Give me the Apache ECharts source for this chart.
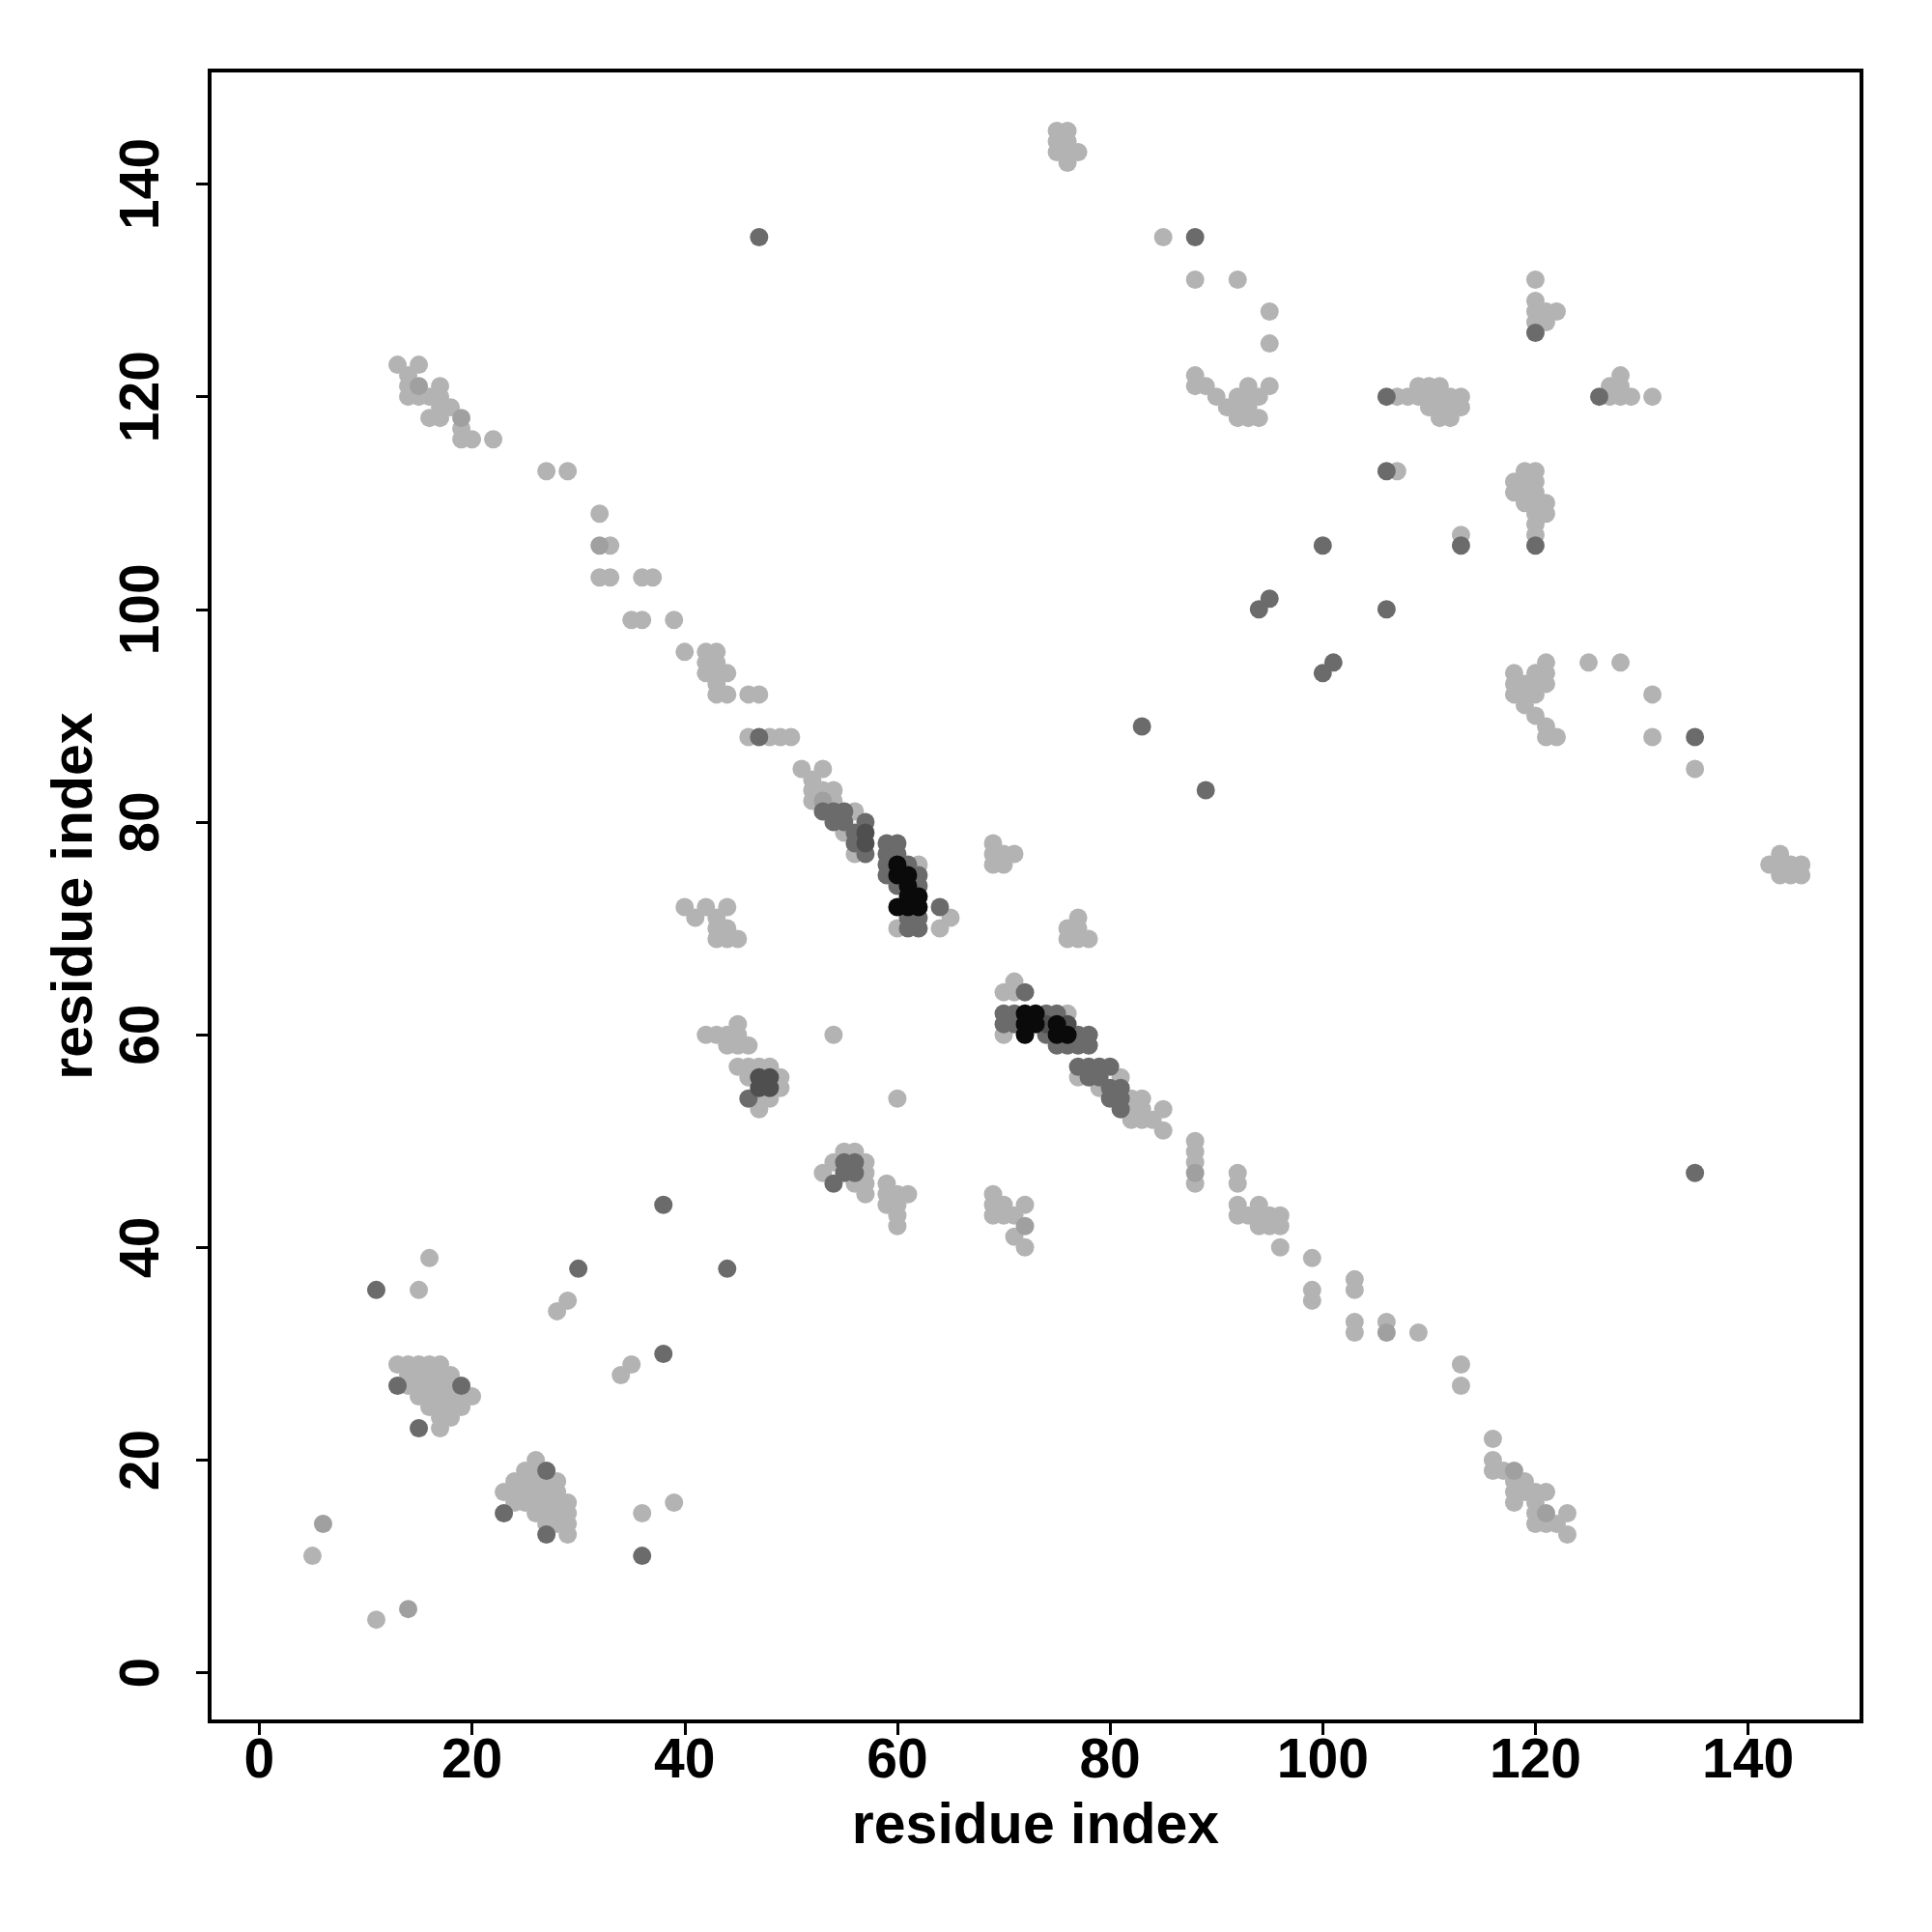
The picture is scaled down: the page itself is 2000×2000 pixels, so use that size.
<!DOCTYPE html>
<html>
<head>
<meta charset="utf-8">
<script src="https://cdn.jsdelivr.net/npm/echarts@6/dist/echarts.min.js"></script>
<style>
html,body{margin:0;padding:0;background:#fff;}
#chart{width:2000px;height:2000px;}
</style>
</head>
<body>
<div id="chart"></div>
<script>
// ---- data (residue index pairs), grouped by grey level ----
const xTicks = [0, 20, 40, 60, 80, 100, 120, 140];
const yTicks = [0, 20, 40, 60, 80, 100, 120, 140];
const axisTitle = 'residue index';

const lightPts = [
[13,123],[15,123],[14,122],[14,121],[17,121],[14,120],[15,120],[16,120],[17,120],[17,119],[18,119],[16,118],[17,118],[19,117],[19,116],[20,116],[22,116],
[27,113],[29,113],[32,109],[33,106],[32,103],[33,103],[36,103],[37,103],[35,99],[36,99],[39,99],
[40,96],[42,96],[43,96],[42,95],[43,95],[42,94],[43,94],[44,94],[43,93],[43,92],[44,92],[46,92],[47,92],
[46,88],[48,88],[49,88],[50,88],
[51,85],[53,85],[52,84],[52,83],[53,83],[54,83],[52,82],[54,82],[56,81],[55,79],[56,77],[62,76],[60,70],[64,70],[65,71],
[69,78],[69,77],[70,77],[71,77],[69,76],[70,76],
[77,71],[76,70],[77,70],[76,69],[77,69],[78,69],
[40,72],[42,72],[44,72],[41,71],[43,71],[43,70],[44,70],[43,69],[44,69],[45,69],
[45,61],[42,60],[43,60],[44,60],[45,60],[44,59],[45,59],[46,59],[45,57],[46,57],[47,57],[48,57],[46,56],[49,56],[49,55],[47,54],[48,54],[47,53],
[54,60],[60,54],
[71,65],[70,64],[71,64],[76,62],[70,60],[77,56],[79,55],[81,56],[82,54],[83,54],[82,53],[83,53],[85,53],[82,52],[83,52],[84,52],[85,51],
[88,50],[88,49],[88,48],[88,46],
[55,49],[56,49],[54,48],[57,48],[53,47],[57,47],[56,46],[57,46],[57,45],
[59,46],[59,45],[60,45],[61,45],[59,44],[60,44],[60,43],[60,42],
[69,45],[69,44],[70,44],[72,44],[69,43],[70,43],[71,43],[71,41],[72,40],
[92,47],[92,46],[92,44],[92,43],[93,43],[94,44],[94,43],[94,42],[95,43],[95,42],[96,43],[96,42],[96,40],
[99,39],[99,36],[99,35],[103,37],[103,36],[103,33],[103,32],[106,33],[109,32],
[113,29],[113,27],[116,22],[116,20],[116,19],[117,19],[118,18],[119,18],[118,17],[119,17],[120,17],[121,17],[118,16],[120,16],[120,15],[123,15],[120,14],[121,14],[122,14],[123,13],
[16,39],[15,36],[29,35],[28,34],[35,29],[34,28],[36,15],[39,16],[5,11],[11,5],
[13,29],[14,29],[15,29],[16,29],[17,29],[14,28],[15,28],[16,28],[17,28],[18,28],[14,27],[15,27],[16,27],[17,27],[18,27],[15,26],[16,26],[17,26],[18,26],[19,26],[20,26],[16,25],[17,25],[18,25],[19,25],[17,24],[18,24],[17,23],
[26,20],[25,19],[26,19],[24,18],[25,18],[26,18],[27,18],[28,18],[23,17],[24,17],[25,17],[26,17],[27,17],[28,17],[24,16],[25,16],[26,16],[27,16],[28,16],[29,16],[26,15],[27,15],[28,15],[29,15],[27,14],[28,14],[29,14],[29,13],
[75,145],[76,145],[75,144],[76,144],[75,143],[76,143],[77,143],[76,142],[85,135],[88,131],[92,131],[95,128],[95,125],
[88,122],[88,121],[89,121],[90,120],[91,119],[92,120],[92,119],[93,121],[93,120],[94,120],[95,121],[92,118],[93,118],[94,118],[93,119],
[120,131],[120,129],[120,128],[121,128],[122,128],[120,127],[121,127],
[107,120],[108,120],[109,120],[110,120],[111,120],[112,120],[113,120],[109,121],[110,121],[111,121],[110,119],[111,119],[112,119],[113,119],[111,118],[112,118],
[127,121],[128,122],[128,121],[127,120],[128,120],[129,120],[131,120],
[107,113],[113,107],
[119,113],[120,113],[118,112],[119,112],[120,112],[118,111],[119,111],[120,111],[119,110],[120,110],[121,110],[120,109],[121,109],[120,108],[120,107],
[121,95],[118,94],[120,94],[121,94],[118,93],[119,93],[120,93],[121,93],[118,92],[119,92],[120,92],[119,91],[120,90],[121,89],[121,88],[122,88],[125,95],[128,95],[131,92],[131,88],[135,85],
[142,76],[143,77],[143,76],[144,76],[145,76],[143,75],[144,75],[145,75]
];

const midPts = [
[19,118],[15,121],[32,106],[53,82],[88,47],[106,32],[118,19],[121,15],[72,42],[6,14],[14,6]
];

const darkPts = [
[47,135],[88,135],[95,101],[94,100],[100,106],[106,100],[101,95],[100,94],[135,88],[135,47],[106,120],[106,113],[113,106],[120,106],[120,126],[126,120],
[83,89],[89,83],[47,88],
[38,44],[11,36],[30,38],[44,38],[38,30],[13,27],[19,27],[15,23],[27,19],[23,15],[27,13],[36,11],
[46,54],[55,48],[56,48],[55,47],[56,47],[54,46],
[53,81],[54,81],[55,81],[54,80],[55,80],[57,80],[56,79],[56,78],[59,78],[60,78],[57,77],[59,77],[60,77],[59,76],[61,76],[59,75],[62,75],[60,74],[62,74],[64,72],[61,71],[62,71],[61,70],[62,70],
[72,64],[70,62],[71,62],[74,62],[75,62],[70,61],[71,61],[74,60],[77,60],[78,60],[75,59],[76,59],[77,59],[78,59],[77,57],[78,57],[79,57],[80,57],[78,56],[79,56],[80,55],[81,55],[80,54],[81,54],[81,53]
];

const darkerPts = [
[57,79],[57,78],[47,56],[48,56],[47,55],[48,55],[74,61],[76,61]
];

const blackPts = [
[60,76],[60,75],[61,75],[61,74],[61,73],[62,73],[60,72],[61,72],[62,72],
[72,62],[73,62],[72,61],[73,61],[72,60],[75,61],[75,60],[76,60]
];

const levels = [
  {data: lightPts,  color: '#b3b3b3'},
  {data: midPts,    color: '#a0a0a0'},
  {data: darkPts,   color: '#6b6b6b'},
  {data: darkerPts, color: '#4f4f4f'},
  {data: blackPts,  color: '#0a0a0a'}
];

const FONT = '"Liberation Sans", Arial, Helvetica, sans-serif';

const chart = echarts.init(document.getElementById('chart'), null, {renderer: 'canvas'});
chart.setOption({
  animation: false,
  backgroundColor: '#ffffff',
  tooltip: {show: false},
  grid: {
    left: 217, top: 73, width: 1710, height: 1709,
    show: true, borderColor: '#000', borderWidth: 4, backgroundColor: 'transparent'
  },
  xAxis: {
    type: 'value', min: -4.67, max: 150.66,
    axisLine: {show: false, onZero: false},
    splitLine: {show: false},
    axisTick: {show: true, inside: false, length: 14, customValues: xTicks, lineStyle: {color: '#000', width: 3}},
    axisLabel: {customValues: xTicks, fontSize: 57, fontWeight: 'bold', color: '#000', fontFamily: FONT, margin: 14},
    name: axisTitle, nameLocation: 'middle', nameGap: 80,
    nameTextStyle: {fontSize: 59, fontWeight: 'bold', color: '#000', fontFamily: FONT}
  },
  yAxis: {
    type: 'value', min: -4.57, max: 150.67,
    axisLine: {show: false, onZero: false},
    splitLine: {show: false},
    axisTick: {show: true, inside: false, length: 14, customValues: yTicks, lineStyle: {color: '#000', width: 3}},
    axisLabel: {customValues: yTicks, rotate: 90, fontSize: 57, fontWeight: 'bold', color: '#000', fontFamily: FONT, margin: 40},
    name: axisTitle, nameLocation: 'middle', nameGap: 109, nameRotate: 90,
    nameTextStyle: {fontSize: 59, fontWeight: 'bold', color: '#000', fontFamily: FONT}
  },
  series: levels.map(l => ({
    type: 'scatter',
    data: l.data,
    symbol: 'circle',
    symbolSize: 19,
    itemStyle: {color: l.color, opacity: 1},
    emphasis: {disabled: true},
    silent: true
  }))
});
</script>
</body>
</html>
